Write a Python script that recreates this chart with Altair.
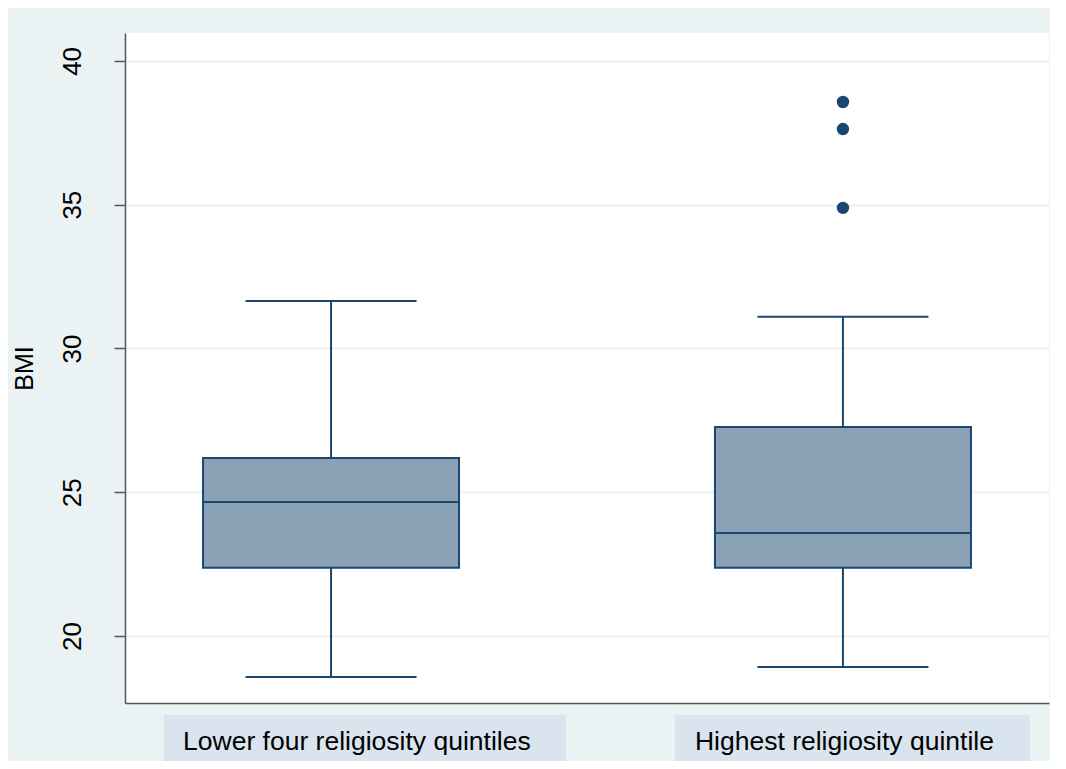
import altair as alt
import pandas as pd

groups = ["Lower four religiosity quintiles", "Highest religiosity quintile"]
lower_whisker = [18.57, 18.92]
q1 = [22.37, 22.37]
median = [24.66, 23.58]
q3 = [26.19, 27.27]
upper_whisker = [31.65, 31.10]

outlier_group = ["Highest religiosity quintile"] * 3
outlier_values = [38.57, 37.63, 34.89]

y_ticks = [20, 25, 30, 35, 40]
y_domain = [17.67, 40.97]

stats = pd.DataFrame({
    "group": groups,
    "lw": lower_whisker,
    "q1": q1,
    "med": median,
    "q3": q3,
    "uw": upper_whisker,
})
outs = pd.DataFrame({"group": outlier_group, "bmi": outlier_values})

NAVY = "#1A476F"
FILL = "#8BA2B6"
FONT = "Liberation Sans"

xscale = alt.Scale(type="point", domain=groups, padding=0.4025)
yscale = alt.Scale(domain=y_domain, nice=False, zero=False)

X = alt.X("group:N", scale=xscale,
          axis=alt.Axis(title=None, labels=False, ticks=False, grid=False,
                        domain=True, domainColor="#555555", domainWidth=1.5))

base = alt.Chart(stats)

whisk_lo = base.mark_rule(color=NAVY, strokeWidth=2).encode(
    x=X,
    y=alt.Y("lw:Q", scale=yscale,
            axis=alt.Axis(title="BMI", values=y_ticks, grid=True, gridColor="#EAF2F3",
                          gridWidth=2, tickSize=11, tickColor="#555555", tickWidth=1.5,
                          domainColor="#555555", domainWidth=1.5,
                          labelAngle=270, labelAlign="center", labelBaseline="alphabetic",
                          labelPadding=34, labelFontSize=26, labelFont=FONT, labelColor="#000000",
                          titleFontSize=25, titleFont=FONT, titleFontWeight="normal",
                          titleColor="#000000", titlePadding=22)),
    y2="q1:Q",
)
whisk_hi = base.mark_rule(color=NAVY, strokeWidth=2).encode(
    x=X, y=alt.Y("q3:Q", scale=yscale), y2="uw:Q"
)
box = base.mark_bar(size=256, fill=FILL, stroke=NAVY, strokeWidth=2).encode(
    x=X, y=alt.Y("q1:Q", scale=yscale), y2="q3:Q"
)
med = base.mark_tick(orient="horizontal", size=256, thickness=2, color=NAVY, opacity=1).encode(
    x=X, y=alt.Y("med:Q", scale=yscale)
)
cap_lo = base.mark_tick(orient="horizontal", size=171, thickness=2, color=NAVY, opacity=1).encode(
    x=X, y=alt.Y("lw:Q", scale=yscale)
)
cap_hi = base.mark_tick(orient="horizontal", size=171, thickness=2, color=NAVY, opacity=1).encode(
    x=X, y=alt.Y("uw:Q", scale=yscale)
)
pts = alt.Chart(outs).mark_circle(size=154, color=NAVY, opacity=1).encode(
    x=X, y=alt.Y("bmi:Q", scale=yscale)
)

lab1 = base.transform_filter(alt.datum.group == groups[0]).mark_bar(
    size=402, xOffset=34, color="#DAE4EF"
).encode(x=X, y=alt.value(682), y2=alt.value(740))
lab2 = base.transform_filter(alt.datum.group == groups[1]).mark_bar(
    size=355, xOffset=9.5, color="#DAE4EF"
).encode(x=X, y=alt.value(682), y2=alt.value(740))
labtxt = base.mark_text(align="left", baseline="middle", dx=-148, fontSize=26.5,
                        font=FONT, color="#000000").encode(
    x=X, y=alt.value(709), text="group:N"
)

chart = alt.layer(whisk_lo, whisk_hi, box, med, cap_lo, cap_hi, pts, lab1, lab2, labtxt).properties(
    width=924, height=670,
    background="#EAF2F3",
    padding={"left": 117, "top": 25, "right": 1, "bottom": 58},
    autosize=alt.AutoSizeParams(type="none"),
).configure_view(fill="#FFFFFF", stroke=None)

chart.save("out.html", embed_options={"renderer": "svg", "actions": False})
